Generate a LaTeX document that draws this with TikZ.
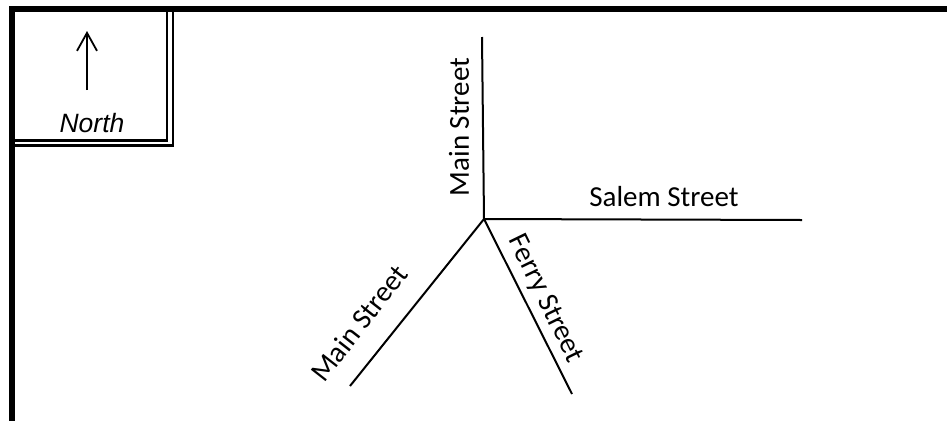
\documentclass[tikz,border=0pt]{standalone}
\usepackage{fontspec}
\setmainfont{Carlito}
\newfontfamily\arialfont{Liberation Sans}
\usetikzlibrary{arrows.meta}
\tikzset{
  frameline/.style={line width=6pt,line cap=butt},
  boxline/.style={line width=2.5pt,line cap=butt},
  street/.style={line width=2pt,line cap=butt},
  streetlabel/.style={font=\fontsize{29}{33}\selectfont,inner sep=0pt,text=black},
  northlabel/.style={font=\arialfont\itshape\fontsize{26.5}{30}\selectfont,inner sep=0pt},
  northarrow/.style={line width=1.8pt,-{Straight Barb[length=18pt,width=20pt,line width=1.8pt]}}
}
\begin{document}
\begin{tikzpicture}[x=1pt,y=-1pt]
\useasboundingbox (0,0) rectangle (947,421);
\fill[white] (0,0) rectangle (947,421);
% outer frame
\coordinate (tl) at (12,9);
\coordinate (tr) at (947,9);
\coordinate (bl) at (12,421);
\draw[frameline] (9,9) -- (tr);
\draw[frameline] (tl) -- (bl);
% double box
\draw[boxline] (167.2,12) -- (167.2,140.3) -- (15,140.3);
\draw[boxline] (172.8,12) -- (172.8,145.4) -- (15,145.4);
% north arrow
\coordinate (as) at (87,90);
\coordinate (ae) at (87,31);
\draw[northarrow] (as) -- (ae);
\node[northlabel] (north) at (92,123) {North};
% streets
\coordinate (j) at (484,219);
\coordinate (mn) at (482,37);
\coordinate (sa) at (802,220);
\coordinate (ms) at (350,386);
\coordinate (fe) at (572,394);
\draw[street] (mn) -- (j);
\draw[street] (j) -- (sa);
\draw[street] (j) -- (ms);
\draw[street] (j) -- (fe);
\node[streetlabel,rotate=90] (l1) at (459,127) {Main Street};
\node[streetlabel] (l2) at (664,197) {Salem Street};
\node[streetlabel,rotate=52] (l3) at (359,323) {Main Street};
\node[streetlabel,rotate=-64] (l4) at (545,299) {Ferry Street};
\end{tikzpicture}
\end{document}
